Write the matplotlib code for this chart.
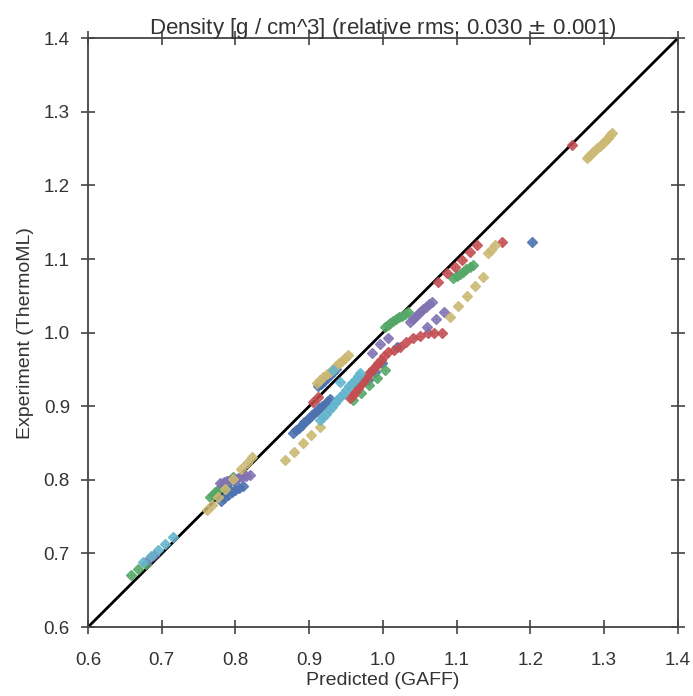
import numpy as np
import matplotlib
matplotlib.use("Agg")
import matplotlib.pyplot as plt

plt.rcParams['font.family'] = ['Liberation Sans', 'DejaVu Sans']

blue_x = [0.780, 0.785, 0.790, 0.795, 0.800, 0.805, 0.810, 0.788, 0.798,
          0.878, 0.882, 0.886, 0.890, 0.893, 0.897, 0.900, 0.904, 0.907,
          0.911, 0.914, 0.918, 0.921, 0.925, 0.928,
          0.912, 0.916, 0.920, 0.924, 0.928, 0.932, 0.936,
          0.980, 0.989, 0.999, 1.019,
          1.202]
blue_y = [0.772, 0.776, 0.779, 0.783, 0.786, 0.789, 0.792, 0.790, 0.798,
          0.864, 0.868, 0.871, 0.875, 0.878, 0.881, 0.884, 0.888, 0.891,
          0.894, 0.897, 0.900, 0.903, 0.907, 0.910,
          0.927, 0.930, 0.934, 0.938, 0.943, 0.946, 0.950,
          0.936, 0.946, 0.959, 0.980,
          1.123]

green_x = [0.658, 0.668, 0.678,
           0.765, 0.769, 0.772, 0.776, 0.779, 0.783, 0.786, 0.789, 0.792, 0.797,
           0.959, 0.970, 0.981, 0.992, 1.003,
           1.003, 1.007, 1.010, 1.014, 1.018, 1.022, 1.026, 1.030, 1.034,
           1.095, 1.100, 1.104, 1.109, 1.113, 1.118, 1.122]
green_y = [0.671, 0.679, 0.686,
           0.777, 0.780, 0.783, 0.786, 0.789, 0.792, 0.795, 0.798, 0.800, 0.804,
           0.908, 0.918, 0.929, 0.938, 0.949,
           1.008, 1.010, 1.013, 1.016, 1.018, 1.021, 1.023, 1.026, 1.028,
           1.074, 1.077, 1.080, 1.083, 1.086, 1.089, 1.092]

red_x = [0.905, 0.912,
         0.955, 0.959, 0.962, 0.966, 0.969, 0.973, 0.976, 0.980, 0.983,
         0.987, 0.990, 0.994, 0.997, 1.002, 1.007,
         1.015, 1.023, 1.032, 1.041, 1.050, 1.061, 1.070, 1.080,
         1.075, 1.087, 1.098, 1.108, 1.118, 1.127, 1.161,
         1.256]
red_y = [0.906, 0.912,
         0.911, 0.916, 0.920, 0.925, 0.929, 0.933, 0.937, 0.942, 0.946,
         0.951, 0.955, 0.959, 0.963, 0.968, 0.974,
         0.977, 0.980, 0.987, 0.993, 0.996, 0.999, 0.999, 0.999,
         1.069, 1.081, 1.089, 1.099, 1.109, 1.119, 1.123,
         1.255]

purple_x = [0.683, 0.690,
            0.779, 0.784, 0.789, 0.794, 0.799, 0.804, 0.809, 0.814, 0.820,
            0.985, 0.996, 1.007,
            1.037, 1.041, 1.044, 1.048, 1.051, 1.055, 1.058, 1.062, 1.066,
            1.060, 1.072, 1.083]
purple_y = [0.693, 0.698,
            0.796, 0.797, 0.799, 0.800, 0.801, 0.803, 0.804, 0.805, 0.807,
            0.972, 0.984, 0.993,
            1.014, 1.018, 1.021, 1.025, 1.028, 1.032, 1.035, 1.039, 1.042,
            1.008, 1.018, 1.028]

yellow_x = [0.761, 0.768, 0.776, 0.786, 0.797, 0.808, 0.815, 0.822,
            0.867, 0.879, 0.891, 0.902, 0.915,
            0.911, 0.915, 0.919, 0.924, 0.928, 0.932, 0.937, 0.941, 0.945,
            0.949, 0.953,
            1.091, 1.102, 1.114, 1.125, 1.136, 1.142, 1.147, 1.152,
            1.277, 1.280, 1.284, 1.287, 1.291, 1.294, 1.298, 1.301, 1.305,
            1.308, 1.311]
yellow_y = [0.759, 0.766, 0.777, 0.788, 0.801, 0.815, 0.823, 0.831,
            0.827, 0.838, 0.850, 0.861, 0.872,
            0.932, 0.936, 0.940, 0.944, 0.947, 0.951, 0.955, 0.959, 0.962,
            0.966, 0.970,
            1.021, 1.036, 1.050, 1.063, 1.076, 1.108, 1.113, 1.119,
            1.237, 1.240, 1.244, 1.247, 1.251, 1.254, 1.258, 1.261, 1.264,
            1.268, 1.271]

cyan_x = [0.675, 0.685, 0.695, 0.705, 0.715,
          0.915, 0.919, 0.923, 0.927, 0.931, 0.935, 0.938, 0.942, 0.946,
          0.950, 0.954, 0.958, 0.962, 0.966, 0.969,
          0.932, 0.942]
cyan_y = [0.688, 0.697, 0.705, 0.713, 0.722,
          0.881, 0.886, 0.890, 0.895, 0.899, 0.904, 0.908, 0.913, 0.917,
          0.922, 0.927, 0.931, 0.936, 0.941, 0.945,
          0.949, 0.933]

series = [(blue_x, blue_y, '#4C72B0'),
          (green_x, green_y, '#55A868'),
          (red_x, red_y, '#C44E52'),
          (purple_x, purple_y, '#8172B2'),
          (yellow_x, yellow_y, '#CCB974'),
          (cyan_x, cyan_y, '#64B5CD')]

fig = plt.figure(figsize=(6.93, 6.96), dpi=100)
ax = fig.add_axes([0.127, 0.099, 0.851, 0.846])

for x, y, c in series:
    ax.errorbar(x, y, xerr=0.004, yerr=0.004, fmt='D', color=c, ms=5.5,
                elinewidth=0.6, alpha=0.85, mec=c)

ax.plot([0.6, 1.4], [0.6, 1.4], color='black', lw=2)

ax.set_xlim(0.6, 1.4)
ax.set_ylim(0.6, 1.4)
ticks = np.arange(0.6, 1.41, 0.1)
ax.set_xticks(ticks)
ax.set_yticks(ticks)
ax.set_xticklabels(["%.1f" % t for t in ticks])
ax.set_yticklabels(["%.1f" % t for t in ticks])
ax.tick_params(direction='inout', length=10, width=1.2, color='#444444',
               labelsize=13.5, labelcolor='#333333', top=True, right=True)
ax.tick_params(axis='x', pad=13)
ax.tick_params(axis='y', pad=8)
for s in ax.spines.values():
    s.set_color('#444444')
    s.set_linewidth(1.3)

ax.set_xlabel("Predicted (GAFF)", fontsize=14, color='#333333', labelpad=2)
ax.set_ylabel("Experiment (ThermoML)", fontsize=14, color='#333333', labelpad=7)
ax.set_title(r"Density [g / cm^3] (relative rms: 0.030 $\pm$ 0.001)",
             fontsize=16, color='#333333', pad=3)

fig.savefig("out.png", dpi=100)
